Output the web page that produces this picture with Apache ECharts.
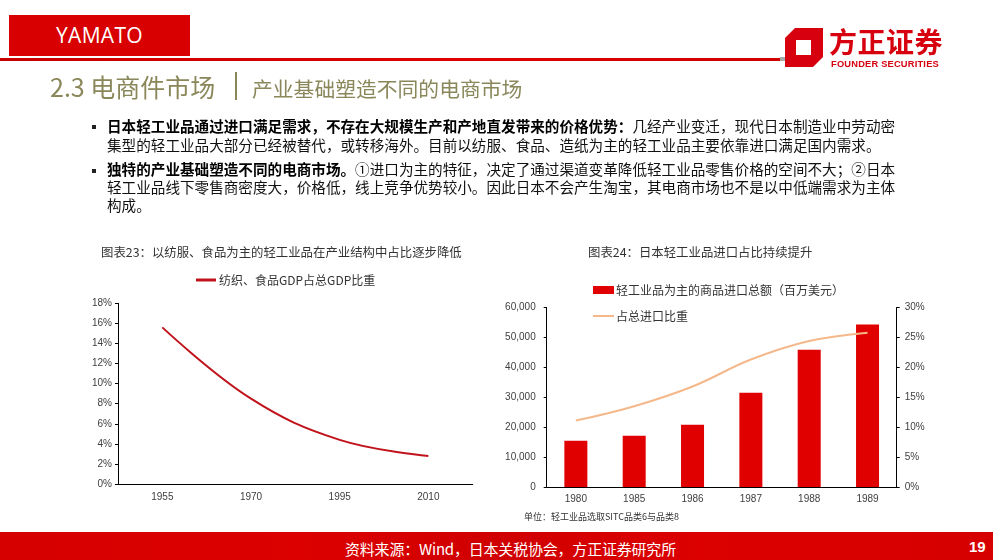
<!DOCTYPE html>
<html>
<head>
<meta charset="utf-8">
<script src="https://cdn.jsdelivr.net/npm/echarts@6/dist/echarts.min.js"></script>
<style>
html,body{margin:0;padding:0;background:#fff;}
#page{position:relative;width:993px;height:560px;overflow:hidden;font-family:"Noto Sans CJK SC","Noto Sans",sans-serif;}
#chart{position:absolute;left:0;top:0;width:993px;height:560px;z-index:1;}
.abs{position:absolute;z-index:2;white-space:nowrap;}
#yamato{left:9px;top:15px;width:181px;height:41px;background:#d80000;color:#fff;font-family:"Open Sans","Noto Sans",sans-serif;font-size:21px;line-height:41px;text-align:center;letter-spacing:0.3px;}
#rule{left:0;top:58px;width:780px;height:3px;background:linear-gradient(to right,#c80000,#e00000 60%,#d00000);}
#rulend{left:780px;top:57px;width:10px;height:4px;background:#a8a8a8;}
#logoT{left:829px;top:24px;font-size:28px;font-weight:700;color:#d7000f;line-height:34px;letter-spacing:0.5px;}
#logoE{left:831px;top:59px;font-family:"Liberation Sans",sans-serif;font-size:9.3px;font-weight:700;color:#d7000f;line-height:11px;letter-spacing:0.2px;}
#h1{left:50px;top:70px;font-size:25px;color:#8a875a;line-height:32px;}
#hbar{left:235px;top:72px;width:2px;height:28px;background:#8a875a;}
#h2{left:252px;top:74px;font-size:20.8px;color:#8a875a;line-height:28px;}
.para{left:107px;font-size:14.6px;line-height:19px;color:#111;}
.para b{color:#000;}
.bul{width:4px;height:4px;background:#222;}
#note{left:524px;top:511px;font-size:9px;color:#333;line-height:12px;}
#foot{left:0;top:532px;width:993px;height:28px;background:linear-gradient(to right,#d60000,#dc0000 30%,#d00000 50%,#dc0000 70%,#d60000);}
#src{left:345px;top:538px;font-size:15px;color:#fff;line-height:22px;font-weight:400;letter-spacing:-0.2px;}
#pg{left:969px;top:536px;font-family:"Liberation Sans",sans-serif;font-size:15px;font-weight:700;color:#fff;line-height:22px;}
</style>
</head>
<body>
<div id="page">
<div id="chart"></div>
<div class="abs" id="yamato">YAMATO</div>
<div class="abs" id="rule"></div>
<div class="abs" id="rulend"></div>
<svg class="abs" style="left:783px;top:27px" width="42" height="42" viewBox="0 0 42 42">
  <polygon points="12,1 40,1 40,30 30,40 2,40 2,11" fill="#d7000f"/>
  <rect x="13" y="13" width="15" height="15" fill="#fff"/>
</svg>
<div class="abs" id="logoT">方正证券</div>
<div class="abs" id="logoE">FOUNDER SECURITIES</div>
<div class="abs" id="h1">2.3 电商件市场</div>
<div class="abs" id="hbar"></div>
<div class="abs" id="h2">产业基础塑造不同的电商市场</div>
<div class="abs bul" style="left:92px;top:125px"></div>
<div class="abs para" style="top:116px"><b>日本轻工业品通过进口满足需求，不存在大规模生产和产地直发带来的价格优势：</b>几经产业变迁，现代日本制造业中劳动密<br>集型的轻工业品大部分已经被替代，或转移海外。目前以纺服、食品、造纸为主的轻工业品主要依靠进口满足国内需求。</div>
<div class="abs bul" style="left:92px;top:169px"></div>
<div class="abs para" style="top:160px;line-height:18px"><b>独特的产业基础塑造不同的电商市场。</b>①进口为主的特征，决定了通过渠道变革降低轻工业品零售价格的空间不大；②日本<br>轻工业品线下零售商密度大，价格低，线上竞争优势较小。因此日本不会产生淘宝，其电商市场也不是以中低端需求为主体<br>构成。</div>
<div class="abs" id="note">单位：轻工业品选取SITC品类6与品类8</div>
<div class="abs" id="foot"></div>
<div class="abs" id="src">资料来源：Wind，日本关税协会，方正证券研究所</div>
<div class="abs" id="pg">19</div>
</div>
<script>
// Left chart data
var gdpYears = ['1955', '1970', '1995', '2010'];
var gdpShare = [15.6, 8.5, 4.4, 2.8];
var gdpTicks = {min: 0, max: 18, interval: 2};
// Right chart data
var impYears = ['1980', '1985', '1986', '1987', '1988', '1989'];
var impValue = [15500, 17100, 20800, 31500, 45900, 54300];
var impShare = [11.1, 13.5, 16.8, 21.3, 24.4, 25.8];
var impTicksL = {min: 0, max: 60000, interval: 10000};
var impTicksR = {min: 0, max: 30, interval: 5};

var chart = echarts.init(document.getElementById('chart'), null, {renderer: 'canvas'});
var axisTxt = {color: '#404040', fontSize: 10, fontFamily: 'Liberation Sans, Arial, sans-serif'};
var cjk = '"Noto Sans CJK SC", sans-serif';
function fmtThousand(v){ return String(v).replace(/\B(?=(\d{3})+(?!\d))/g, ','); }
var option = {
  animation: false,
  graphic: [
    {type: 'text', style: {text: '图表23：以纺服、食品为主的轻工业品在产业结构中占比逐步降低', x: 101, y: 252, fill: '#333', font: '12.4px ' + cjk, verticalAlign: 'middle'}},
    {type: 'text', style: {text: '图表24：日本轻工业品进口占比持续提升', x: 588, y: 252, fill: '#333', font: '12.4px ' + cjk, verticalAlign: 'middle'}}
  ],
  legend: [
    {left: 196, top: 274, padding: 0, icon: 'rect', itemWidth: 20, itemHeight: 3, itemGap: 4, data: ['纺织、食品GDP占总GDP比重'], textStyle: {fontSize: 12, color: '#333', fontFamily: cjk, padding: [0,0,0,-2]}},
    {left: 593, top: 284, padding: 0, icon: 'rect', itemWidth: 21, itemHeight: 8, data: ['轻工业品为主的商品进口总额（百万美元）'], textStyle: {fontSize: 12, color: '#333', fontFamily: cjk, padding: [0,0,0,-3]}},
    {left: 593, top: 310, padding: 0, icon: 'rect', itemWidth: 21, itemHeight: 2, data: ['占总进口比重'], textStyle: {fontSize: 12, color: '#333', fontFamily: cjk, padding: [0,0,0,-3]}}
  ],
  grid: [
    {left: 118, top: 303.3, width: 354.7, height: 180.7},
    {left: 546.7, top: 307.5, width: 350, height: 179.5}
  ],
  xAxis: [
    {type: 'category', gridIndex: 0, data: gdpYears, boundaryGap: true,
     axisLine: {lineStyle: {color: '#000', width: 1}}, axisTick: {show: false},
     axisLabel: Object.assign({margin: 8}, axisTxt)},
    {type: 'category', gridIndex: 1, data: impYears, boundaryGap: true,
     axisLine: {lineStyle: {color: '#000', width: 1}}, axisTick: {show: false},
     axisLabel: Object.assign({margin: 7}, axisTxt)}
  ],
  yAxis: [
    {type: 'value', gridIndex: 0, min: gdpTicks.min, max: gdpTicks.max, interval: gdpTicks.interval,
     axisLine: {show: true, lineStyle: {color: '#000', width: 1}},
     axisTick: {show: true, length: 3, lineStyle: {color: '#000'}},
     splitLine: {show: false},
     axisLabel: Object.assign({margin: 6, formatter: '{value}%'}, axisTxt)},
    {type: 'value', gridIndex: 1, min: impTicksL.min, max: impTicksL.max, interval: impTicksL.interval,
     axisLine: {show: true, lineStyle: {color: '#000', width: 1}},
     axisTick: {show: true, length: 3, lineStyle: {color: '#000'}},
     splitLine: {show: false},
     axisLabel: Object.assign({margin: 11, formatter: fmtThousand}, axisTxt)},
    {type: 'value', gridIndex: 1, position: 'right', min: impTicksR.min, max: impTicksR.max, interval: impTicksR.interval,
     axisLine: {show: true, lineStyle: {color: '#000', width: 1}},
     axisTick: {show: true, length: 3, lineStyle: {color: '#000'}},
     splitLine: {show: false},
     axisLabel: Object.assign({margin: 8, formatter: '{value}%'}, axisTxt)}
  ],
  series: [
    {name: '纺织、食品GDP占总GDP比重', type: 'line', xAxisIndex: 0, yAxisIndex: 0, data: gdpShare,
     smooth: 0.4, symbol: 'none', lineStyle: {color: '#c0131b', width: 2}, itemStyle: {color: '#c0131b'}},
    {name: '轻工业品为主的商品进口总额（百万美元）', type: 'bar', xAxisIndex: 1, yAxisIndex: 1, data: impValue,
     barWidth: 23, itemStyle: {color: '#e00000'}},
    {name: '占总进口比重', type: 'line', xAxisIndex: 1, yAxisIndex: 2, data: impShare,
     smooth: 0.4, symbol: 'none', lineStyle: {color: '#f5b88a', width: 2}, itemStyle: {color: '#f5b88a'}}
  ]
};
chart.setOption(option);
</script>
</body>
</html>
